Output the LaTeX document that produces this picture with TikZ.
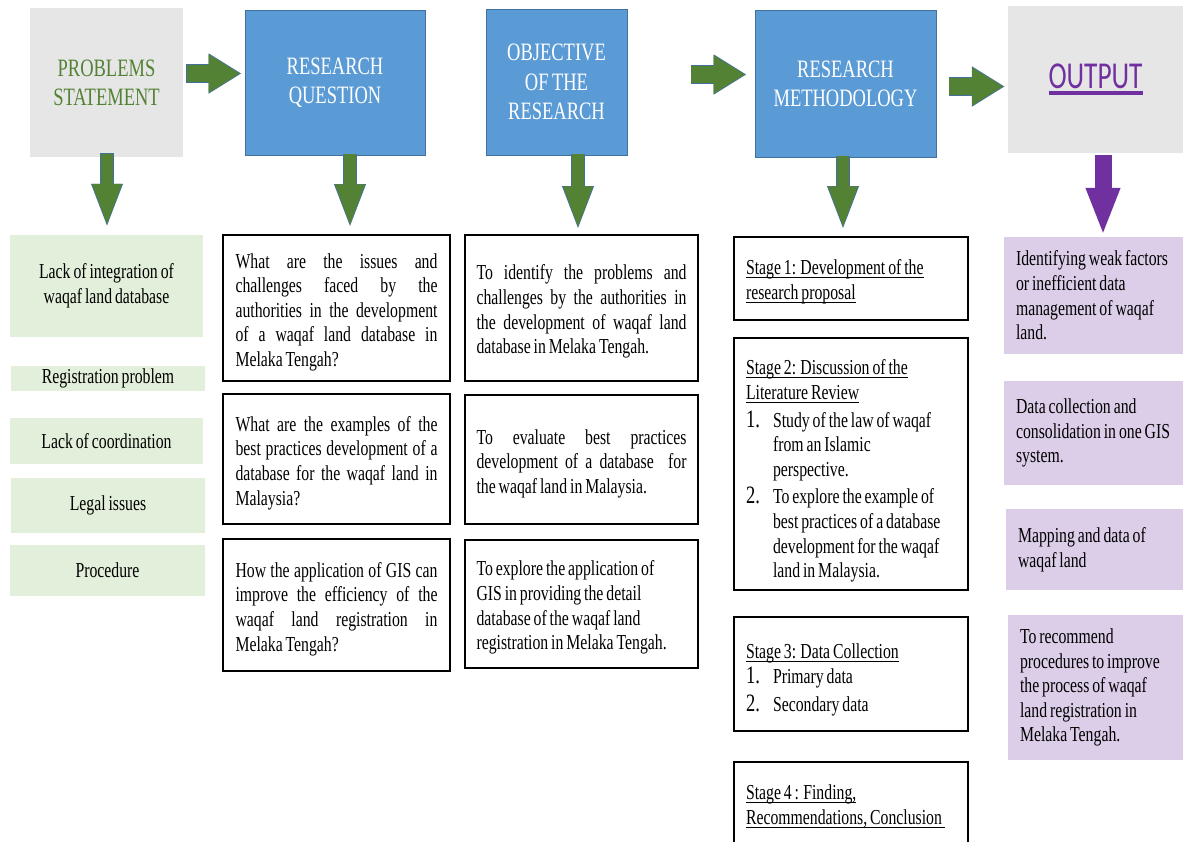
\documentclass[tikz,border=0pt]{standalone}
\usepackage{fontspec}
\setmainfont{Liberation Serif}[FakeStretch=0.74, WordSpace=0.74]
\newfontfamily\calfont{Carlito}[FakeStretch=0.72]
\usetikzlibrary{arrows.meta}
\definecolor{hdgray}{HTML}{E7E6E6}
\definecolor{hdblue}{HTML}{5B9BD5}
\definecolor{hdedge}{HTML}{41719C}
\definecolor{arrgreen}{HTML}{548235}
\definecolor{arrpurple}{HTML}{7030A0}
\definecolor{probgreen}{HTML}{E2EFDA}
\definecolor{outpurple}{HTML}{DCCDE8}
\newcommand{\hdfont}{\fontsize{25}{29.3}\selectfont}
\newcommand{\txfont}{\fontsize{21.3}{24.6}\selectfont\hyphenpenalty=10000}
\newcommand{\qline}[1]{\makebox[202pt][s]{\spaceskip=0pt\relax #1}}
\newcommand{\oline}[1]{\makebox[210pt][s]{\spaceskip=0pt\relax #1}}
\newcommand{\itemno}[1]{\makebox[27pt][l]{\fontsize{25}{24.6}\selectfont #1}}
\newcommand{\ind}{\hspace*{27pt}}
\newcommand{\lift}[1]{\rule{0pt}{#1pt}}
\newsavebox{\ulbox}
\newcommand{\uln}[2][1.1pt]{\leavevmode\sbox{\ulbox}{#2}\rlap{\rule[\dimexpr-2.5pt-#1\relax]{\wd\ulbox}{#1}}\usebox{\ulbox}}
\tikzset{
  hdbox/.style={inner sep=0pt, align=center, font=\hdfont},
  bluebox/.style={hdbox, fill=hdblue, draw=hdedge, line width=1pt, text=white},
  graybox/.style={hdbox, fill=hdgray},
  probbox/.style={inner sep=0pt, fill=probgreen, align=center, font=\txfont},
  plain spaces/.style={execute at begin node={\spaceskip=0pt\relax\xspaceskip=0pt\relax}},
  textbox/.style={draw, line width=1.6pt, inner sep=0pt, align=left, font=\txfont, plain spaces},
  outbox/.style={inner sep=0pt, fill=outpurple, align=left, font=\txfont, plain spaces},
  hfat/.style={line width=19pt, -{Triangle[width=38pt,length=33pt]}},
  hfatin/.style={line width=17.4pt, shorten <=0.8pt, shorten >=1.4pt, -{Triangle[width=35.8pt,length=31.4pt]}},
  vfat/.style={line width=14pt, -{Triangle[width=28pt,length=45pt]}},
  vfatin/.style={line width=12.4pt, shorten <=0.8pt, shorten >=1.5pt, -{Triangle[width=26pt,length=43.4pt]}},
  pfat/.style={line width=17pt, arrpurple, -{Triangle[width=31pt,length=48pt]}},
}
% #1 h or v, #2 fill colour, #3 from, #4 to
\newcommand{\fatarrow}[4]{%
  \draw[#1fat, hdedge] #3 -- #4;
  \draw[#1fatin, #2] #3 -- #4;}

\begin{document}
\begin{tikzpicture}[x=1pt, y=-1pt]
  \useasboundingbox[fill=white] (0,0) rectangle (1183,841);

  % top row
  \node[graybox, minimum width=153, minimum height=149, text=arrgreen] (ps) at (106.5,82.5) {PROBLEMS\\STATEMENT};
  \node[bluebox, minimum width=180, minimum height=145] (rq) at (335,82.5) {RESEARCH\\QUESTION};
  \node[bluebox, minimum width=141, minimum height=146] (obj) at (556.5,82) {OBJECTIVE\\OF THE\\RESEARCH};
  \node[bluebox, minimum width=181, minimum height=147] (rm) at (845.5,83.5) {RESEARCH\\METHODOLOGY};
  \node[graybox, minimum width=175, minimum height=147] (out) at (1095.5,79.5)
    {\calfont\fontsize{38}{40}\selectfont\color{arrpurple}\uln[3.2pt]{OUTPUT}};

  % problems
  \node[probbox, minimum width=193, minimum height=102] (pa) at (106.5,286) {Lack of integration of\\waqaf land database};
  \node[probbox, minimum width=194, minimum height=25] (pb) at (108,378.5) {Registration problem};
  \node[probbox, minimum width=193, minimum height=46] (pc) at (106.5,441) {Lack of coordination};
  \node[probbox, minimum width=194, minimum height=55] (pd) at (108,505.5) {Legal issues};
  \node[probbox, minimum width=195, minimum height=51] (pe) at (107.5,570.5) {Procedure};

  % questions
  \node[textbox, minimum width=227, minimum height=146, text width=202] (q1) at (336.5,308)
    {\lift{23}\qline{What are the issues and}\\\qline{challenges faced by the}\\\qline{authorities in the development}\\\qline{of a waqaf land database in}\\Melaka Tengah?};
  \node[textbox, minimum width=227, minimum height=130, text width=202] (q2) at (336.5,459)
    {\lift{23}\qline{What are the examples of the}\\\qline{best practices development of a}\\\qline{database for the waqaf land in}\\Malaysia?};
  \node[textbox, minimum width=227, minimum height=132, text width=202] (q3) at (336.5,605)
    {\lift{23}\qline{How the application of GIS can}\\\qline{improve the efficiency of the}\\\qline{waqaf land registration in}\\Melaka Tengah?};

  % objectives
  \node[textbox, minimum width=233, minimum height=146, text width=210] (o1) at (581.5,308)
    {\lift{22}\oline{To identify the problems and}\\\oline{challenges by the authorities in}\\\oline{the development of waqaf land}\\database in Melaka Tengah.};
  \node[textbox, minimum width=233, minimum height=129, text width=210] (o2) at (581.5,459.5)
    {\lift{23}\oline{To evaluate best practices}\\\oline{development of a database ~for}\\the waqaf land in Malaysia.};
  \node[textbox, minimum width=233, minimum height=128, text width=210] (o3) at (581.5,604)
    {\lift{22}To explore the application of\\GIS in providing the detail\\database of the waqaf land\\registration in Melaka Tengah.};

  % methodology
  \node[textbox, minimum width=234, minimum height=83, text width=210] (s1) at (851,278.5)
    {\lift{21}\uln{Stage 1: Development of the}\\\uln{research proposal}};
  \node[textbox, minimum width=234, minimum height=252, text width=210] (s2) at (851,464)
    {\lift{29}\uln{Stage 2: Discussion of the}\\\uln{Literature Review}\\[3pt]
     \itemno{1.}Study of the law of waqaf\\\ind from an Islamic\\\ind perspective.\\[3pt]
     \itemno{2.}To explore the example of\\\ind best practices of a database\\\ind development for the waqaf\\\ind land in Malaysia.};
  \node[textbox, minimum width=234, minimum height=114, text width=210] (s3) at (851,674)
    {\lift{27}\uln{Stage 3: Data Collection}\\\itemno{1.}Primary data\\[4pt]\itemno{2.}Secondary data};
  \node[textbox, minimum width=234, minimum height=84, text width=210] (s4) at (851,804)
    {\lift{19}\uln{Stage 4 : Finding,}\\\uln{Recommendations, Conclusion\ }};

  % outputs
  \node[outbox, minimum width=179, minimum height=117, text width=155] (p1) at (1093.5,295.5)
    {Identifying weak factors\\or inefficient data\\management of waqaf\\land.};
  \node[outbox, minimum width=179, minimum height=104, text width=155] (p2) at (1093.5,433)
    {Data collection and\\consolidation in one GIS\\system.};
  \node[outbox, minimum width=177, minimum height=81, text width=153] (p3) at (1094.5,549.5)
    {Mapping and data of\\waqaf land};
  \node[outbox, minimum width=175, minimum height=145, text width=151] (p4) at (1095.5,687.5)
    {To recommend\\procedures to improve\\the process of waqaf\\land registration in\\Melaka Tengah.};

  % block arrows
  \fatarrow{h}{arrgreen}{([xshift=3pt,yshift=9pt]ps.east)}{([xshift=-3pt,yshift=9pt]rq.west)}
  \fatarrow{h}{arrgreen}{([xshift=63pt,yshift=7.5pt]obj.east)}{([xshift=-8pt,yshift=9pt]rm.west)}
  \fatarrow{h}{arrgreen}{([xshift=12pt,yshift=-3pt]rm.east)}{([xshift=-3pt,yshift=-7pt]out.west)}
  \fatarrow{v}{arrgreen}{([xshift=0.5pt,yshift=4pt]ps.south)}{([xshift=0.5pt,yshift=6pt]pa.north)}
  \fatarrow{v}{arrgreen}{([xshift=15pt,yshift=2pt]rq.south)}{([xshift=13.5pt,yshift=5pt]q1.north)}
  \fatarrow{v}{arrgreen}{([xshift=21.5pt,yshift=2pt]obj.south)}{([xshift=-3.5pt,yshift=3pt]o1.north)}
  \fatarrow{v}{arrgreen}{([xshift=-2.5pt,yshift=2pt]rm.south)}{([xshift=-8pt,yshift=5pt]s1.north)}
  \draw[pfat] ([xshift=7.5pt,yshift=-2pt]out.south) -- ([xshift=9.5pt,yshift=1pt]p1.north);
\end{tikzpicture}
\end{document}
